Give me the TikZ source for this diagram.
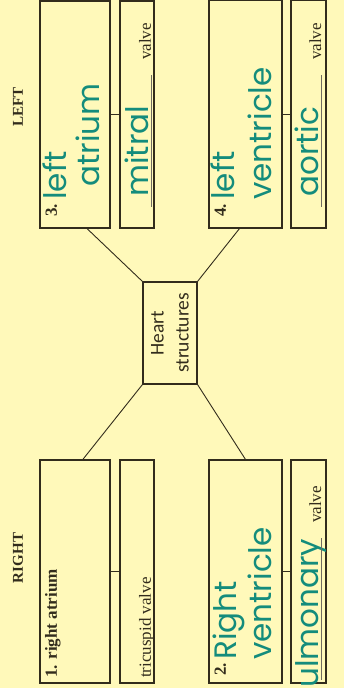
\documentclass[tikz,border=0pt]{standalone}
\usepackage{fontspec}
\setmainfont{Liberation Serif}
\newfontfamily\handfont{Poppins}
\newfontfamily\hubfont{Carlito}
\usetikzlibrary{positioning}

\definecolor{paper}{RGB}{255,249,186}
\definecolor{ink}{RGB}{50,44,28}
\definecolor{marker}{RGB}{20,140,124}

\tikzset{
  chamber/.style={rectangle, draw=ink, line width=1.1pt, minimum width=223pt, minimum height=70pt, inner sep=0pt},
  valvebox/.style={chamber, minimum height=34pt},
  hub/.style={rectangle, draw=ink, line width=1.1pt, minimum width=102pt, minimum height=54pt, align=center, text=ink, font=\hubfont\fontsize{19.5}{25}\selectfont},
  printed/.style={text=ink, inner sep=0pt, font=\fontsize{17}{19}\selectfont},
  side/.style={printed, font=\fontsize{15}{17}\selectfont\bfseries},
  hand/.style={text=marker, inner sep=0pt, font=\handfont\fontsize{31}{34}\selectfont},
  link/.style={draw=ink, line width=0.9pt},
  blank/.style={draw=ink!70, line width=0.6pt}
}

\begin{document}
\begin{tikzpicture}[x=1pt, y=1pt, rotate=90, transform shape]
\fill[paper] (0,0) rectangle (688,344);
\useasboundingbox (0,0) rectangle (688,344);

% side headings
\node[side] (rightlab) at (130,326) {RIGHT};
\node[side] (leftlab) at (581,326) {LEFT};

% right side
\node[chamber] (ra) at (116.5,269) {};
\node[valvebox] (tri) at (116.5,207) {};
\node[chamber, minimum height=73pt] (rv) at (116.5,98.5) {};
\node[valvebox, minimum height=35pt] (pul) at (116.5,35.5) {};

% left side
\node[chamber, minimum width=227pt] (la) at (573.5,269) {};
\node[valvebox, minimum width=227pt] (mit) at (573.5,207) {};
\node[chamber, minimum width=228pt, minimum height=73pt] (lv) at (574,98.5) {};
\node[valvebox, minimum width=228pt, minimum height=35pt] (aor) at (574,35.5) {};

\node[hub] (heart) at (355,174) {Heart\\structures};

% box contents
\node[printed, anchor=base west, font=\fontsize{17}{19}\selectfont\bfseries] (ratxt) at (10,287) {1. right atrium};
\node[printed, anchor=base west] (tritxt) at (10,193) {tricuspid valve};

\node[printed, anchor=base west, font=\fontsize{17}{19}\selectfont\bfseries] (rvnum) at (12,118) {2.};
\node[hand, anchor=base west] (rvtop) at (28,107) {Right};
\node[hand, anchor=base west] (rvbot) at (28,72) {ventricle};
\node[hand, anchor=base west] (pultxt) at (0,25) {ulmonary};
\coordinate (pulend) at (150,23);
\node[printed, anchor=base west] (pulvalve) at (165,23) {valve};

\node[printed, anchor=base west, font=\fontsize{17}{19}\selectfont\bfseries] (lanum) at (471,287) {3.};
\node[hand, anchor=base west] (latop) at (488,277) {left};
\node[hand, anchor=base west] (labot) at (501,244) {atrium};
\node[hand, anchor=base west] (mittxt) at (491,195) {mitral};
\coordinate (mitstart) at (481,193);
\coordinate (mitend) at (613,193);
\node[printed, anchor=base west] (mitvalve) at (628,193) {valve};

\node[printed, anchor=base west, font=\fontsize{17}{19}\selectfont\bfseries] (lvnum) at (471,118) {4.};
\node[hand, anchor=base west] (lvtop) at (488,109) {left};
\node[hand, anchor=base west] (lvbot) at (488,72) {ventricle};
\node[hand, anchor=base west] (aortxt) at (491,25) {aortic};
\coordinate (aorstart) at (481,23);
\coordinate (aorend) at (613,23);
\node[printed, anchor=base west] (aorvalve) at (628,23) {valve};

% blanks for the valve names
\draw[blank] (8,23) -- (pulend);
\draw[blank] (mitstart) -- (mitend);
\draw[blank] (aorstart) -- (aorend);

% connectors
\draw[link] (ra) -- (tri);
\draw[link] (rv) -- (pul);
\draw[link] (la) -- (mit);
\draw[link] (lv) -- (aor);
\draw[link] (heart.north west) -- (ra.-4);
\draw[link] (heart.south west) -- (rv.east);
\draw[link] (heart.north east) -- (la.186);
\draw[link] (heart.south east) -- (lv.177);

\end{tikzpicture}
\end{document}
